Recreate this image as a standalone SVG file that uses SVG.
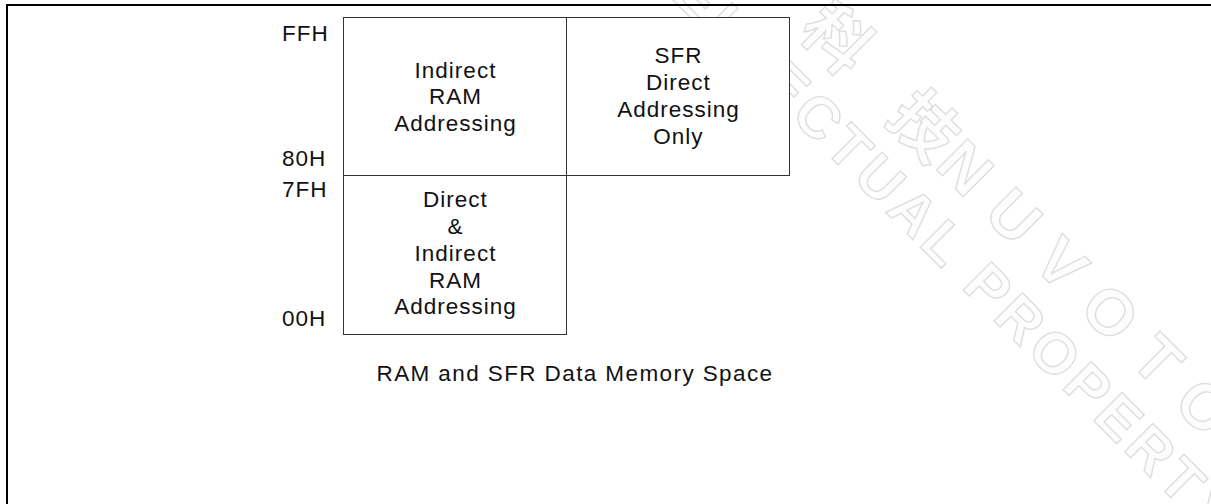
<svg xmlns="http://www.w3.org/2000/svg" width="1211" height="504" viewBox="0 0 1211 504">
<style>
.t{font-family:"Liberation Sans",Arial,sans-serif;font-size:22.5px;fill:#111;letter-spacing:1px}
.c{text-anchor:middle}
.box{fill:#fff;stroke:#333;stroke-width:1}
.wm{font-family:"Liberation Sans","Noto Sans CJK TC",sans-serif;font-weight:bold;fill:#fdfdfd;stroke:#dedede;stroke-width:1.4}
</style>
<rect width="1211" height="504" fill="#fff"/>
<g id="watermark" transform="rotate(45)">
<text class="wm" x="586" y="-541" font-size="66" textLength="190" lengthAdjust="spacing">科技</text>
<text class="wm" x="778" y="-542" font-size="64" textLength="455" lengthAdjust="spacing">NUVOTON</text>
<text class="wm" x="363" y="-476" font-size="58" textLength="874" lengthAdjust="spacing">INTELLECTUAL PROPERTY</text>
</g>
<g id="frame">
<path d="M6 5H1211M7 4V504" stroke="#000" stroke-width="2" fill="none"/>
</g>
<g id="connectors"/>
<g id="indirect-ram">
<rect class="box" x="343.5" y="17.5" width="223" height="158"/>
<text class="t c" x="455.5" y="77.5">Indirect</text>
<text class="t c" x="455.5" y="104.3">RAM</text>
<text class="t c" x="455.5" y="131">Addressing</text>
</g>
<g id="sfr">
<rect class="box" x="566.5" y="17.5" width="223" height="158"/>
<text class="t c" x="678.5" y="62.7">SFR</text>
<text class="t c" x="678.5" y="89.7">Direct</text>
<text class="t c" x="678.5" y="116.6">Addressing</text>
<text class="t c" x="678.5" y="143.5">Only</text>
</g>
<g id="direct-indirect-ram">
<rect class="box" x="343.5" y="175.5" width="223" height="159"/>
<text class="t c" x="455.5" y="207">Direct</text>
<text class="t c" x="455.5" y="234">&amp;</text>
<text class="t c" x="455.5" y="260.7">Indirect</text>
<text class="t c" x="455.5" y="287.5">RAM</text>
<text class="t c" x="455.5" y="314.3">Addressing</text>
</g>
<g id="addresses">
<text class="t" x="282" y="41">FFH</text>
<text class="t" x="282" y="166">80H</text>
<text class="t" x="282" y="196.5">7FH</text>
<text class="t" x="282" y="326">00H</text>
</g>
<g id="caption">
<text class="t" x="376.5" y="381" style="letter-spacing:1.4px">RAM and SFR Data Memory Space</text>
</g>
</svg>
